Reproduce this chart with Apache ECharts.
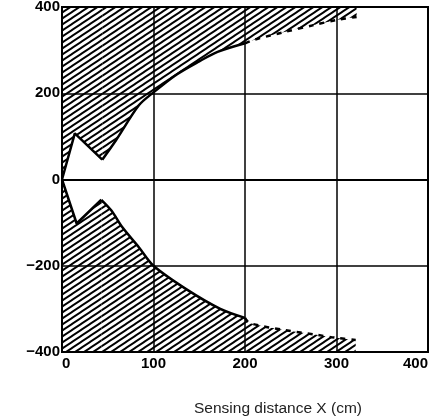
<!DOCTYPE html>
<html>
<head>
<meta charset="utf-8">
<script src="https://cdn.jsdelivr.net/npm/echarts@6/dist/echarts.min.js"></script>
<style>
  html, body { margin: 0; padding: 0; background: #fff; }
  #chart { width: 435px; height: 416px; }
</style>
</head>
<body>
<div id="chart"></div>
<script>
// 感知区域边界 (x cm, y cm)
const upperSpike = [[0, 0], [14, 107], [44, 46]];
const upperCurve = [[44, 46], [59, 91], [84, 172], [100, 202], [125, 243], [150, 274], [170, 296], [200, 316]];
const upperDash = [[200, 316], [210, 324], [243, 342], [275, 358], [300, 370], [322, 377]];
const lowerSpike = [[0, 0], [16, -102], [43, -47]];
const lowerCurve = [[43, -47], [54, -72], [66, -111], [84, -157], [100, -200], [137, -256], [173, -300], [200, -321]];
const lowerDash = [[200, -321], [205, -333], [243, -349], [278, -360], [299, -367], [321, -372]];
const xTicks = [0, 100, 200, 300, 400];
const yTicks = [-400, -200, 0, 200, 400];
const xTitle = 'Sensing distance X (cm)';

// 斜线填充
const makeHatch = () => {
  const c = document.createElement('canvas');
  c.width = 9;
  c.height = 6;
  const ctx = c.getContext('2d');
  ctx.strokeStyle = '#000';
  ctx.lineWidth = 1.9;
  ctx.beginPath();
  [-6, 0, 6].forEach((k) => {
    ctx.moveTo(-1.5, 6 + k + 1);
    ctx.lineTo(10.5, 6 + k - 7);
  });
  ctx.stroke();
  return c;
};
const hatch = { image: makeHatch(), repeat: 'repeat' };

const chart = echarts.init(document.getElementById('chart'));

const areaSeries = (data, origin, dashed, smooth) => ({
  type: 'line',
  data: data,
  symbol: 'none',
  smooth: smooth || false,
  lineStyle: { color: '#000', width: 2.5, type: dashed ? [5, 6] : 'solid' },
  areaStyle: { color: hatch, opacity: 1, origin: origin },
  z: 1
});

const opt = {
  animation: false,
  title: {
    text: xTitle,
    left: 189,
    top: 396,
    textStyle: { fontFamily: 'Liberation Sans, Arial, sans-serif', fontSize: 15.5, fontWeight: 'normal', color: '#222' }
  },
  grid: {
    left: 62,
    right: 7,
    top: 7,
    bottom: 64,
    outerBoundsMode: 'none',
    containLabel: false,
    show: true,
    borderColor: '#000',
    borderWidth: 2,
    z: 3
  },
  xAxis: {
    type: 'value',
    min: xTicks[0],
    max: xTicks[xTicks.length - 1],
    interval: 100,
    axisLine: { show: true, lineStyle: { color: '#000', width: 2 } },
    axisTick: { show: false },
    splitLine: { show: true, lineStyle: { color: '#000', width: 1.5 } },
    axisLabel: {
      margin: 4,
      color: '#000',
      fontFamily: 'Liberation Sans, Arial, sans-serif',
      fontWeight: 'bold',
      fontSize: 15,
      showMinLabel: true,
      showMaxLabel: true,
      alignMinLabel: 'left',
      alignMaxLabel: 'right'
    },
    z: 3
  },
  yAxis: {
    type: 'value',
    min: yTicks[0],
    max: yTicks[yTicks.length - 1],
    interval: 200,
    axisLine: { show: true, lineStyle: { color: '#000', width: 2 } },
    axisTick: { show: false },
    splitLine: { show: true, lineStyle: { color: '#000', width: 1.5 } },
    axisLabel: {
      margin: 2,
      color: '#000',
      fontFamily: 'Liberation Sans, Arial, sans-serif',
      fontWeight: 'bold',
      fontSize: 15,
      formatter: function (v) {
        return String(v).replace('-', '\u2212');
      }
    },
    z: 3
  },
  series: [
    areaSeries(upperSpike, 'end', false),
    areaSeries(upperCurve, 'end', false, 0.3),
    areaSeries(upperDash, 'end', true, 0.3),
    areaSeries(lowerSpike, 'start', false),
    areaSeries(lowerCurve, 'start', false, 0.3),
    areaSeries(lowerDash, 'start', true, 0.3)
  ]
};
chart.setOption(opt);
</script>
</body>
</html>
